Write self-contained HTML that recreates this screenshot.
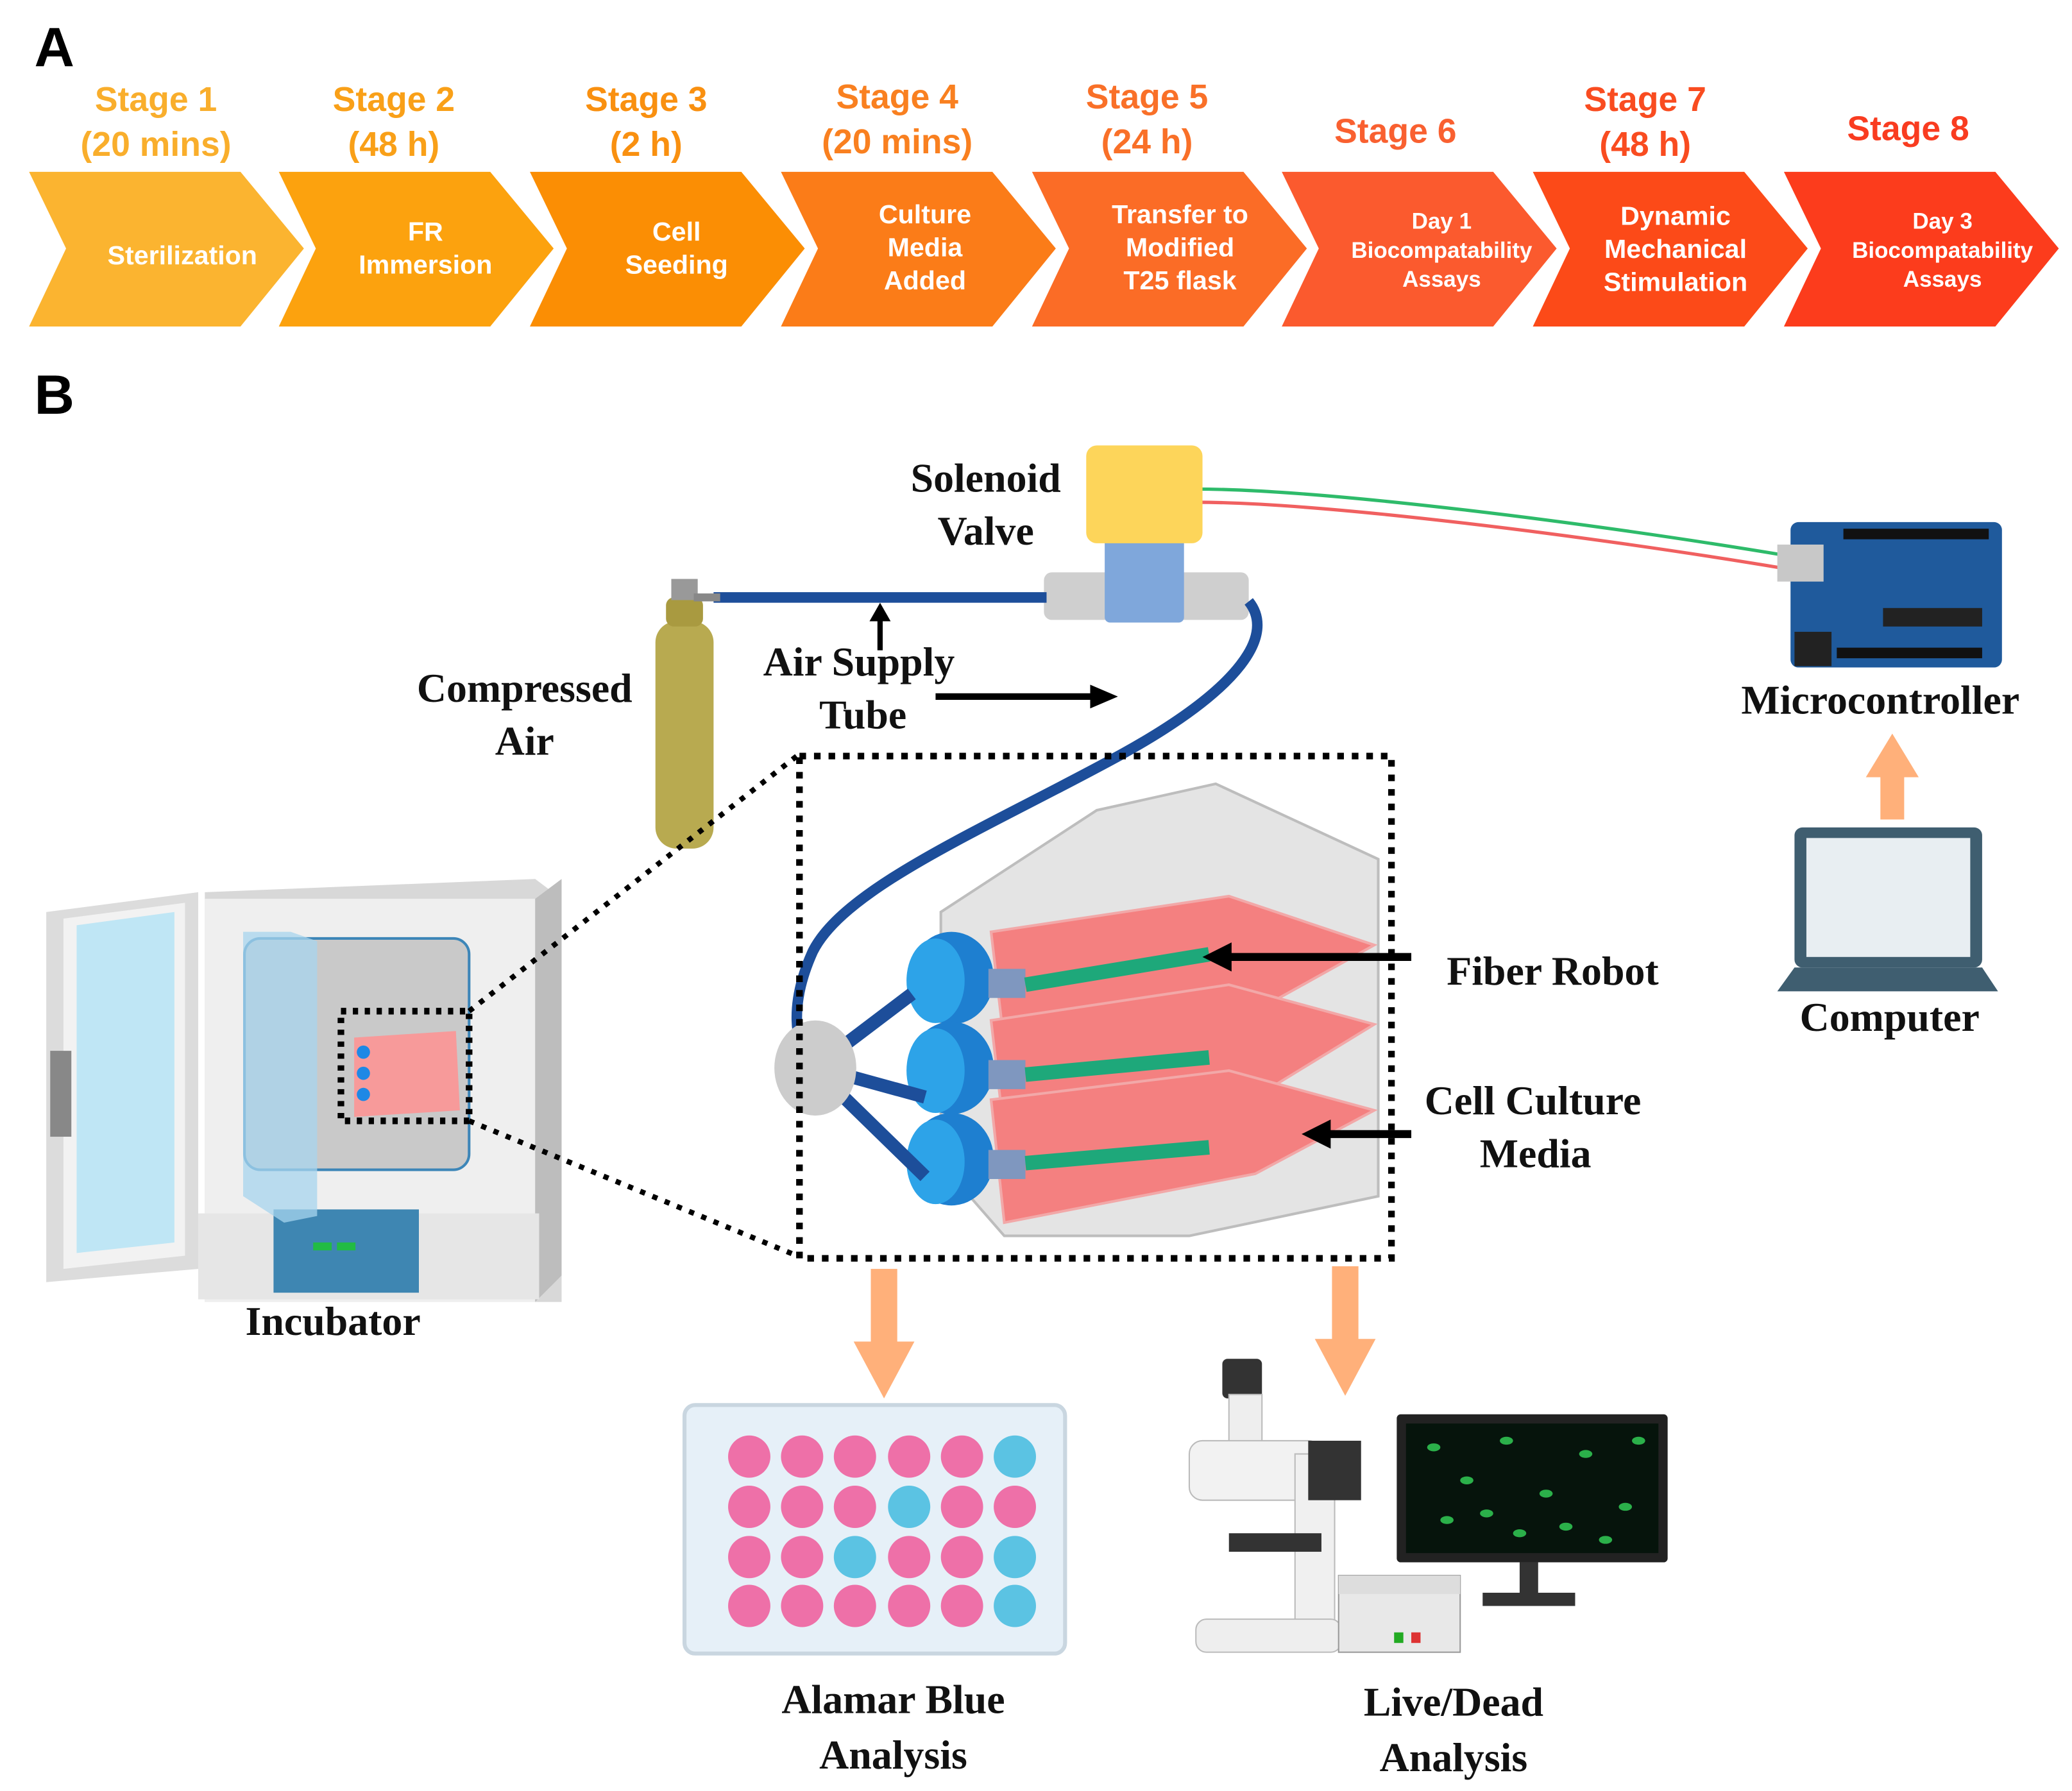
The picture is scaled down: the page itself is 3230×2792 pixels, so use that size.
<!DOCTYPE html>
<html><head><meta charset="utf-8"><style>
html,body{margin:0;padding:0;background:#fff;}
svg{display:block;}
.st{font-family:"Liberation Sans",sans-serif;font-weight:bold;font-size:26px;text-anchor:middle;}
.ch{font-family:"Liberation Sans",sans-serif;font-weight:bold;fill:#fff;text-anchor:middle;font-size:20px;}
.lb{font-family:"Liberation Serif",serif;font-weight:bold;font-size:31px;fill:#111;text-anchor:middle;}
.big{font-family:"Liberation Sans",sans-serif;font-weight:bold;font-size:42px;fill:#000;}
</style></head><body>
<svg width="3230" height="2792" viewBox="0 0 1568 1355" preserveAspectRatio="none" xmlns="http://www.w3.org/2000/svg">
<rect width="1568" height="1355" fill="#fff"/>
<text class="big" x="26" y="50">A</text>
<text class="big" x="26" y="313">B</text>
<!-- chevrons -->
<g>
<polygon points="22,130 182,130 230,188 182,247 22,247 50,188" fill="#FBB430"/>
<polygon points="211,130 371,130 419,188 371,247 211,247 239,188" fill="#FCA20E"/>
<polygon points="401,130 561,130 609,188 561,247 401,247 429,188" fill="#FB8E04"/>
<polygon points="591,130 751,130 799,188 751,247 591,247 619,188" fill="#FB7C18"/>
<polygon points="781,130 941,130 989,188 941,247 781,247 809,188" fill="#FB6C26"/>
<polygon points="970,130 1130,130 1178,188 1130,247 970,247 998,188" fill="#FB5A2E"/>
<polygon points="1160,130 1320,130 1368,188 1320,247 1160,247 1188,188" fill="#FC4A18"/>
<polygon points="1350,130 1510,130 1558,188 1510,247 1350,247 1378,188" fill="#FC3C1C"/>
</g>
<text class="ch" x="138" y="200">Sterilization</text>
<text class="ch" x="322" y="182">FR<tspan x="322" dy="25">Immersion</tspan></text>
<text class="ch" x="512" y="182">Cell<tspan x="512" dy="25">Seeding</tspan></text>
<text class="ch" x="700" y="169">Culture<tspan x="700" dy="25">Media</tspan><tspan x="700" dy="25">Added</tspan></text>
<text class="ch" x="893" y="169">Transfer to<tspan x="893" dy="25">Modified</tspan><tspan x="893" dy="25">T25 flask</tspan></text>
<text class="ch" x="1091" y="173" style="font-size:17px">Day 1<tspan x="1091" dy="22">Biocompatability</tspan><tspan x="1091" dy="22">Assays</tspan></text>
<text class="ch" x="1268" y="170">Dynamic<tspan x="1268" dy="25">Mechanical</tspan><tspan x="1268" dy="25">Stimulation</tspan></text>
<text class="ch" x="1470" y="173" style="font-size:17px">Day 3<tspan x="1470" dy="22">Biocompatability</tspan><tspan x="1470" dy="22">Assays</tspan></text>
<text class="st" x="118" y="84" fill="#F9AE2C">Stage 1<tspan x="118" dy="34">(20 mins)</tspan></text>
<text class="st" x="298" y="84" fill="#F9A018">Stage 2<tspan x="298" dy="34">(48 h)</tspan></text>
<text class="st" x="489" y="84" fill="#F99010">Stage 3<tspan x="489" dy="34">(2 h)</tspan></text>
<text class="st" x="679" y="82" fill="#F98020">Stage 4<tspan x="679" dy="34">(20 mins)</tspan></text>
<text class="st" x="868" y="82" fill="#F97028">Stage 5<tspan x="868" dy="34">(24 h)</tspan></text>
<text class="st" x="1056" y="108" fill="#F96030">Stage 6</text>
<text class="st" x="1245" y="84" fill="#F94C20">Stage 7<tspan x="1245" dy="34">(48 h)</tspan></text>
<text class="st" x="1444" y="106" fill="#F93C20">Stage 8</text>

<!-- wires -->
<path d="M905,370 C1000,370 1200,395 1350,420" stroke="#2EBB6A" stroke-width="2.5" fill="none"/>
<path d="M905,380 C1000,380 1200,405 1350,430" stroke="#F06060" stroke-width="2.5" fill="none"/>
<!-- solenoid -->
<rect x="790" y="433" width="155" height="36" rx="6" fill="#CFCFCF"/>
<rect x="836" y="405" width="60" height="66" rx="4" fill="#7FA7DB"/>
<rect x="822" y="337" width="88" height="74" rx="8" fill="#FDD55A"/>
<text class="lb" x="746" y="372">Solenoid</text>
<text class="lb" x="746" y="412">Valve</text>
<!-- air tube -->
<line x1="540" y1="452" x2="792" y2="452" stroke="#1D4E9A" stroke-width="8"/>
<path d="M945,455 C965,480 940,520 850,570 C750,625 640,670 615,720 C597,760 602,790 612,800" stroke="#1D4E9A" stroke-width="8" fill="none"/>
<!-- cylinder -->
<rect x="496" y="470" width="44" height="172" rx="16" fill="#B8AA50"/>
<rect x="504" y="452" width="28" height="22" rx="6" fill="#A99A40"/>
<rect x="508" y="438" width="20" height="16" fill="#999"/>
<line x1="525" y1="452" x2="545" y2="452" stroke="#888" stroke-width="6"/>
<text class="lb" x="397" y="531">Compressed</text>
<text class="lb" x="397" y="571">Air</text>
<!-- arrows -->
<line x1="666" y1="492" x2="666" y2="468" stroke="#000" stroke-width="4"/>
<polygon points="658,470 674,470 666,456" fill="#000"/>
<line x1="708" y1="527" x2="828" y2="527" stroke="#000" stroke-width="5"/>
<polygon points="825,518 825,536 846,527" fill="#000"/>
<text class="lb" x="650" y="511">Air Supply</text>
<text class="lb" x="653" y="551">Tube</text>
<!-- arduino -->
<rect x="1355" y="395" width="160" height="110" rx="6" fill="#1F5A9C"/>
<rect x="1345" y="412" width="35" height="28" fill="#C8C8C8"/>
<rect x="1358" y="478" width="28" height="26" fill="#222"/>
<rect x="1425" y="460" width="75" height="14" fill="#222"/>
<rect x="1395" y="400" width="110" height="8" fill="#111"/>
<rect x="1390" y="490" width="110" height="8" fill="#111"/>
<text class="lb" x="1423" y="540">Microcontroller</text>
<!-- orange up arrow -->
<rect x="1423" y="585" width="18" height="35" fill="#FFB07A"/>
<polygon points="1412,588 1452,588 1432,555" fill="#FFB07A"/>
<!-- laptop -->
<rect x="1358" y="626" width="142" height="106" rx="6" fill="#3F5E70"/>
<rect x="1367" y="634" width="124" height="90" fill="#E8EEF2"/>
<polygon points="1345,750 1512,750 1500,732 1358,732" fill="#3F5E70"/>
<text class="lb" x="1430" y="780">Computer</text>
<!-- incubator -->
<polygon points="155,675 405,665 425,680 425,985 405,985 155,985" fill="#D8D8D8"/>
<rect x="155" y="680" width="250" height="305" fill="#EFEFEF"/>
<polygon points="405,680 425,665 425,965 405,985" fill="#BDBDBD"/>
<rect x="185" y="710" width="170" height="175" rx="12" fill="#C9C9C9" stroke="#3D86B8" stroke-width="2"/>
<rect x="150" y="918" width="258" height="65" fill="#E6E6E6"/>
<rect x="207" y="915" width="110" height="63" fill="#3E86B2"/>
<rect x="237" y="940" width="14" height="6" fill="#22BB44"/><rect x="255" y="940" width="14" height="6" fill="#22BB44"/>
<polygon points="184,705 220,705 240,712 240,920 215,925 184,905" fill="#A7D4EE" opacity="0.75"/>
<polygon points="35,690 150,675 150,960 35,970" fill="#DCDCDC"/>
<polygon points="48,695 140,683 140,950 48,960" fill="#F2F2F2"/>
<polygon points="58,700 132,690 132,940 58,948" fill="#BFE6F5"/>
<rect x="38" y="795" width="16" height="65" fill="#888"/>
<polygon points="268,785 345,780 348,840 268,845" fill="#F79A9A"/>
<circle cx="275" cy="796" r="5" fill="#1E88E5"/><circle cx="275" cy="812" r="5" fill="#1E88E5"/><circle cx="275" cy="828" r="5" fill="#1E88E5"/>
<rect x="258" y="765" width="97" height="83" fill="none" stroke="#000" stroke-width="5" stroke-dasharray="4,5"/>
<text class="lb" x="252" y="1010">Incubator</text>
<!-- zoom lines -->
<line x1="355" y1="765" x2="603" y2="572" stroke="#000" stroke-width="4" stroke-dasharray="4,6"/>
<line x1="355" y1="848" x2="603" y2="950" stroke="#000" stroke-width="4" stroke-dasharray="4,6"/>
<!-- flasks -->
<polygon points="712,690 830,613 920,593 1043,650 1043,905 900,935 760,935 712,880" fill="#E4E4E4" stroke="#BDBDBD" stroke-width="2"/>
<g fill="#F48080" stroke="#F2A8A8" stroke-width="2">
<polygon points="750,705 930,678 1040,715 950,765 760,790"/>
<polygon points="750,772 930,745 1040,775 950,830 760,858"/>
<polygon points="750,832 930,810 1040,840 950,888 760,925"/>
</g>
<g fill="#1E7FD0">
<ellipse cx="720" cy="740" rx="32" ry="35"/><ellipse cx="720" cy="808" rx="32" ry="35"/><ellipse cx="720" cy="877" rx="32" ry="35"/>
</g>
<g fill="#2DA3E8"><ellipse cx="708" cy="742" rx="22" ry="32"/><ellipse cx="708" cy="810" rx="22" ry="32"/><ellipse cx="708" cy="879" rx="22" ry="32"/></g>
<g fill="#7F97BF"><rect x="748" y="733" width="28" height="22"/><rect x="748" y="802" width="28" height="22"/><rect x="748" y="870" width="28" height="22"/></g>
<g stroke="#1EA87A" stroke-width="11"><line x1="776" y1="745" x2="915" y2="722"/><line x1="776" y1="813" x2="915" y2="800"/><line x1="776" y1="880" x2="915" y2="868"/></g>
<g stroke="#1D4E9A" stroke-width="10"><line x1="620" y1="805" x2="690" y2="752"/><line x1="620" y1="808" x2="700" y2="830"/><line x1="620" y1="812" x2="700" y2="890"/></g>
<ellipse cx="617" cy="808" rx="31" ry="36" fill="#CCCCCC"/>
<rect x="605" y="572" width="448" height="380" fill="none" stroke="#000" stroke-width="5" stroke-dasharray="5,6"/>
<line x1="1068" y1="724" x2="930" y2="724" stroke="#000" stroke-width="6"/>
<polygon points="932,713 932,735 910,724" fill="#000"/>
<line x1="1068" y1="858" x2="1005" y2="858" stroke="#000" stroke-width="6"/>
<polygon points="1007,847 1007,869 985,858" fill="#000"/>
<text class="lb" x="1175" y="745">Fiber Robot</text>
<text class="lb" x="1160" y="843">Cell Culture</text>
<text class="lb" x="1162" y="883">Media</text>
<!-- orange down arrows -->
<rect x="659" y="960" width="20" height="58" fill="#FFB07A"/>
<polygon points="646,1015 692,1015 669,1058" fill="#FFB07A"/>
<rect x="1008" y="958" width="20" height="58" fill="#FFB07A"/>
<polygon points="995,1013 1041,1013 1018,1056" fill="#FFB07A"/>
<!-- well plate -->
<rect x="518" y="1063" width="288" height="188" rx="8" fill="#E6F0F8" stroke="#C9D6E0" stroke-width="3"/>
<g fill="#EE70A8">
<circle cx="567" cy="1102" r="16"/><circle cx="607" cy="1102" r="16"/><circle cx="647" cy="1102" r="16"/><circle cx="688" cy="1102" r="16"/><circle cx="728" cy="1102" r="16"/>
<circle cx="567" cy="1140" r="16"/><circle cx="607" cy="1140" r="16"/><circle cx="647" cy="1140" r="16"/><circle cx="728" cy="1140" r="16"/><circle cx="768" cy="1140" r="16"/>
<circle cx="567" cy="1178" r="16"/><circle cx="607" cy="1178" r="16"/><circle cx="688" cy="1178" r="16"/><circle cx="728" cy="1178" r="16"/>
<circle cx="567" cy="1215" r="16"/><circle cx="607" cy="1215" r="16"/><circle cx="647" cy="1215" r="16"/><circle cx="688" cy="1215" r="16"/><circle cx="728" cy="1215" r="16"/>
</g>
<g fill="#5BC3E3">
<circle cx="768" cy="1102" r="16"/><circle cx="688" cy="1140" r="16"/><circle cx="647" cy="1178" r="16"/><circle cx="768" cy="1178" r="16"/><circle cx="768" cy="1215" r="16"/>
</g>
<text class="lb" x="676" y="1296">Alamar  Blue</text>
<text class="lb" x="676" y="1338">Analysis</text>
<!-- monitor -->
<rect x="1057" y="1070" width="205" height="112" rx="3" fill="#222"/>
<rect x="1064" y="1077" width="191" height="98" fill="#06140C"/>
<g fill="#2BB04A">
<ellipse cx="1085" cy="1095" rx="5" ry="3"/><ellipse cx="1110" cy="1120" rx="5" ry="3"/><ellipse cx="1140" cy="1090" rx="5" ry="3"/><ellipse cx="1170" cy="1130" rx="5" ry="3"/><ellipse cx="1200" cy="1100" rx="5" ry="3"/><ellipse cx="1230" cy="1140" rx="5" ry="3"/><ellipse cx="1095" cy="1150" rx="5" ry="3"/><ellipse cx="1150" cy="1160" rx="5" ry="3"/><ellipse cx="1215" cy="1165" rx="5" ry="3"/><ellipse cx="1240" cy="1090" rx="5" ry="3"/><ellipse cx="1125" cy="1145" rx="5" ry="3"/><ellipse cx="1185" cy="1155" rx="5" ry="3"/>
</g>
<rect x="1150" y="1182" width="14" height="25" fill="#333"/><rect x="1122" y="1205" width="70" height="10" fill="#333"/>
<!-- microscope -->
<rect x="925" y="1028" width="30" height="30" rx="4" fill="#333"/>
<rect x="930" y="1055" width="25" height="55" fill="#EEE" stroke="#BBB"/>
<rect x="900" y="1090" width="100" height="45" rx="10" fill="#F2F2F2" stroke="#BBB"/>
<rect x="980" y="1100" width="30" height="130" fill="#F0F0F0" stroke="#BBB"/>
<rect x="930" y="1160" width="70" height="14" fill="#333"/>
<rect x="990" y="1090" width="40" height="45" fill="#333"/>
<rect x="905" y="1225" width="110" height="25" rx="8" fill="#EEE" stroke="#BBB"/>
<rect x="1013" y="1192" width="92" height="58" fill="#E8E8E8" stroke="#999"/>
<rect x="1013" y="1192" width="92" height="14" fill="#DDD"/>
<rect x="1055" y="1235" width="7" height="8" fill="#2A2"/><rect x="1068" y="1235" width="7" height="8" fill="#D33"/>
<text class="lb" x="1100" y="1298">Live/Dead</text>
<text class="lb" x="1100" y="1340">Analysis</text>
</svg>
</body></html>
